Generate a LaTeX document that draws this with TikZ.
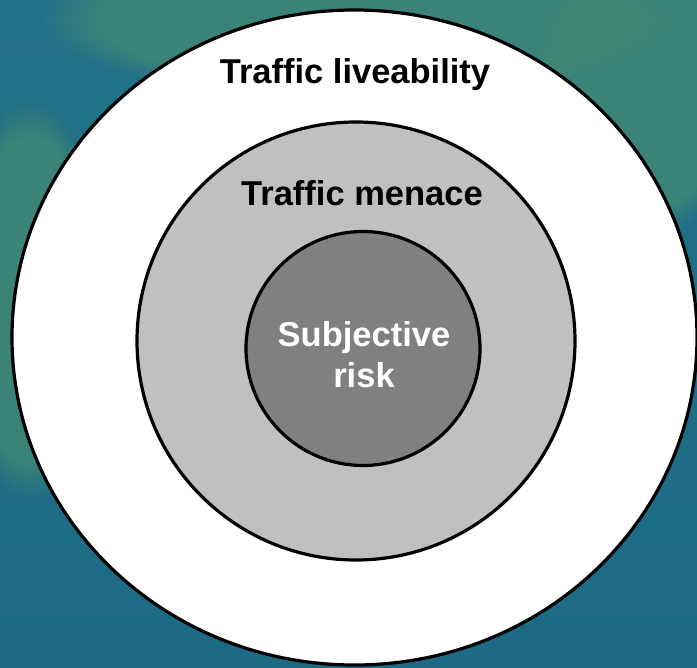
\documentclass[tikz,border=0pt]{standalone}
\usepackage{fontspec}
\setmainfont{Liberation Sans}
\usetikzlibrary{shapes.geometric,fadings}
\definecolor{bgA}{RGB}{34,114,136}
\definecolor{bgB}{RGB}{66,136,116}
\definecolor{bgC}{RGB}{28,106,132}
\definecolor{ringmid}{RGB}{192,192,192}
\definecolor{ringin}{RGB}{128,128,128}
\tikzset{
  ring/.style={draw=black, line width=3.2pt, inner sep=0pt, outer sep=0pt},
  lbl/.style={font=\fontsize{34.5}{41}\selectfont\bfseries, anchor=base, inner sep=0pt},
  glow/.style={fill=bgB, path fading=circle with fuzzy edge 20 percent, fill opacity=0.8},
}
\begin{document}
\begin{tikzpicture}[x=1pt,y=-1pt]
\useasboundingbox (0,0) rectangle (697,668);
\shade[top color=bgA, bottom color=bgC] (0,0) rectangle (697,668);
\begin{scope}
\clip (0,0) rectangle (697,668);
\fill[glow] (360,20) ellipse (320 and 80);
\fill[glow] (640,90) ellipse (110 and 150);
\fill[glow] (30,300) ellipse (80 and 200);
\end{scope}
\node[ring, ellipse, fill=white, minimum width=685pt, minimum height=655pt] (outer) at (354.5,337.5) {};
\node[ring, circle, fill=ringmid, minimum size=438pt] (middle) at (356,341) {};
\node[ring, circle, fill=ringin, minimum size=234pt] (inner) at (363,348.5) {};
\node[lbl] (tl) at (355,84) {Traffic liveability};
\node[lbl] (tm) at (362,206) {Traffic menace};
\node[lbl, text=white] (sr1) at (364,347) {Subjective};
\node[lbl, text=white] (sr2) at (364,388) {risk};
\end{tikzpicture}
\end{document}
